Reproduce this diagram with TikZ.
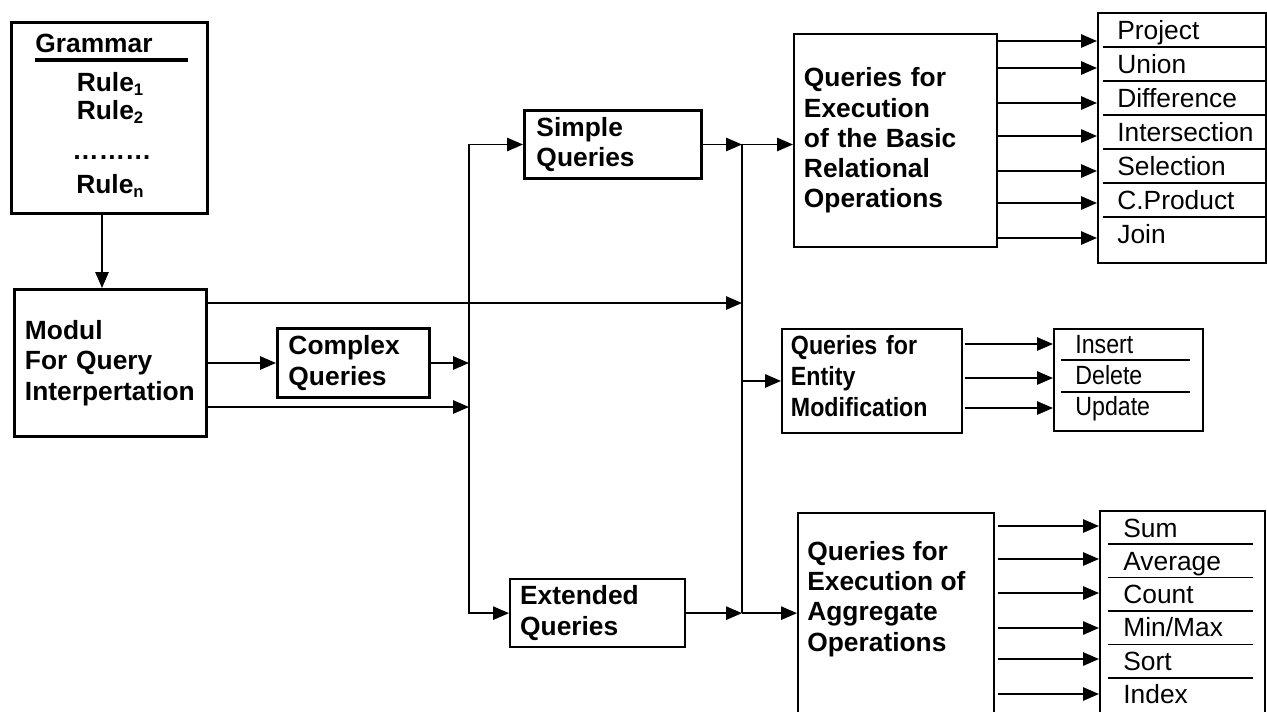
\documentclass[tikz,border=0pt]{standalone}
\usepackage{fontspec}
\setmainfont{Liberation Sans}
\newfontfamily\narrowsans{Liberation Sans}[FakeStretch=0.88]
\usetikzlibrary{arrows.meta}
\newcommand{\rsub}[1]{\raisebox{-0.17em}{\fontsize{9.5}{9.5}\selectfont #1}}
\tikzset{flow/.style={line width=1pt, -{Triangle[length=9pt,width=7.5pt]}},
  bus/.style={line width=1pt},
  heading/.style={inner sep=0pt, font=\fontsize{15}{17.2}\selectfont\bfseries},
  heavybox/.style={draw, line width=1.7pt, inner sep=0pt, anchor=north west, align=left, font=\fontsize{15}{17.2}\selectfont\bfseries},
  lightbox/.style={draw, line width=1.1pt, inner sep=0pt, anchor=north west, align=left, font=\fontsize{15}{17.2}\selectfont\bfseries},
  listbox/.style={draw, line width=1.3pt, inner sep=0pt, anchor=north west},
  itemtext/.style={anchor=base west, inner sep=0pt, font=\fontsize{15}{17.2}\selectfont},
  sep/.style={line width=1.1pt}}

\begin{document}
\begin{tikzpicture}[x=0.02cm, y=-0.02cm]
\useasboundingbox (0,0) rectangle (1267,711);
\clip (0,0) rectangle (1267,711);

\node[heavybox, minimum width=3.92cm, minimum height=3.82cm] (gram) at (10,21) {};
\node[heading, anchor=base west] (gtitle) at (35,52) {Grammar};
\draw[line width=2.2pt] (35,60) -- (188,60);
\node[heading, anchor=base] (rule1) at (110,91) {Rule\rsub{1}};
\node[heading, anchor=base] (rule2) at (110,119) {Rule\rsub{2}};
\node[heading, anchor=base] (rdots) at (112,159) {………};
\node[heading, anchor=base] (rulen) at (110,193) {Rule\rsub{n}};

\node[heavybox, minimum width=3.84cm, minimum height=2.94cm, inner xsep=0.21cm, text width=3.42cm] (modul) at (13,288) {Modul\\For Query\\Interpertation};
\node[heavybox, minimum width=3.04cm, minimum height=1.38cm, inner xsep=0.22cm, text width=2.6cm] (cplx) at (276,327) {Complex\\Queries};
\node[heavybox, minimum width=3.54cm, minimum height=1.36cm, inner xsep=0.24cm, text width=3.06cm] (simple) at (523,109) {Simple\\Queries};
\node[lightbox, line width=1.3pt, minimum width=3.5cm, minimum height=1.36cm, inner xsep=0.2cm, text width=3.1cm] (ext) at (509,578) {Extended\\Queries};

\node[lightbox, minimum width=4.06cm, minimum height=4.26cm, inner xsep=0.2cm, text width=3.66cm] (basic) at (793,33) {Queries for\\Execution\\of the Basic\\Relational\\Operations};
\node[lightbox, minimum width=3.6cm, minimum height=2.08cm, inner xsep=0.18cm, text width=3.24cm, font=\fontsize{15}{17.6}\narrowsans\bfseries] (ent) at (781,328) {Queries for\\Entity\\Modification\rule[-6pt]{0pt}{0pt}};
\node[lightbox, minimum width=3.92cm, minimum height=5cm] (aggr) at (797,512) {};
\node[heading, anchor=north west, align=left] (aggrtext) at (807,541) {Queries for\\Execution of\\Aggregate\\Operations};

\coordinate (ltop) at (simple.west -| 469,0);
\coordinate (rtop) at (simple.east -| 742,0);

\draw[flow] (gram.south -| 102,0) -- (modul.north -| 102,0);
\draw[flow] (modul.east |- 0,303) -- (rtop |- 0,303);
\draw[flow] (modul.east |- cplx.west) -- (cplx.west);
\draw[flow] (cplx.east) -- (cplx.east -| ltop);
\draw[flow] (modul.east |- 0,407) -- (ltop |- 0,407);
\draw[flow] (ltop) -- (simple.west);
\draw[flow] (ltop) |- (ext.west);
\draw[flow] (simple.east) -- (rtop);
\draw[flow] (rtop) -- (rtop -| basic.west);
\draw[bus] (rtop) -- (rtop |- ext.east);
\draw[flow] (ext.east) -- (ext.east -| rtop);
\draw[flow] (ext.east -| rtop) -- (ext.east -| aggr.west);
\draw[flow] (rtop |- ent.west) -- (ent.west);

\node[listbox, minimum width=3.36cm, minimum height=5cm] (opsbox) at (1097,12) {};
\foreach \name [count=\i] in {Project,Union,Difference,Intersection,Selection,C.Product,Join}
  \node[itemtext] (op\i) at (1117,{5+34*\i}) {\name};
\foreach \i in {0,...,5}
  \draw[sep] (1103,{47+34*\i}) -- (1265,{47+34*\i});
\foreach \y in {41,68,103,136,171,203,238}
  \draw[flow] (basic.east |- 0,\y) -- (opsbox.west |- 0,\y);

\node[listbox, line width=1.1pt, minimum width=2.98cm, minimum height=2.04cm] (modbox) at (1053,328) {};
\foreach \name/\y [count=\i] in {Insert/353,Delete/384,Update/415}
  \node[itemtext, font=\fontsize{15}{17.2}\narrowsans] (mod\i) at (1075,\y) {\name};
\foreach \y in {360,392}
  \draw[sep] (1061,\y) -- (1190,\y);
\foreach \y in {344,378,408}
  \draw[flow] ([xshift=1pt]ent.east |- 0,\y) -- (modbox.west |- 0,\y);

\node[listbox, minimum width=3.3cm, minimum height=5cm] (aggbox) at (1099,510) {};
\foreach \name [count=\i] in {Sum,Average,Count,Min/Max,Sort,Index}
  \node[itemtext] (agg\i) at (1123,{503.7+33.3*\i}) {\name};
\foreach \i in {0,...,4}
  \draw[sep] (1108,{544+33.5*\i}) -- (1253,{544+33.5*\i});
\foreach \y in {526,559,593,628,659,694}
  \draw[flow] ([xshift=2pt]aggr.east |- 0,\y) -- (aggbox.west |- 0,\y);
\end{tikzpicture}
\end{document}
